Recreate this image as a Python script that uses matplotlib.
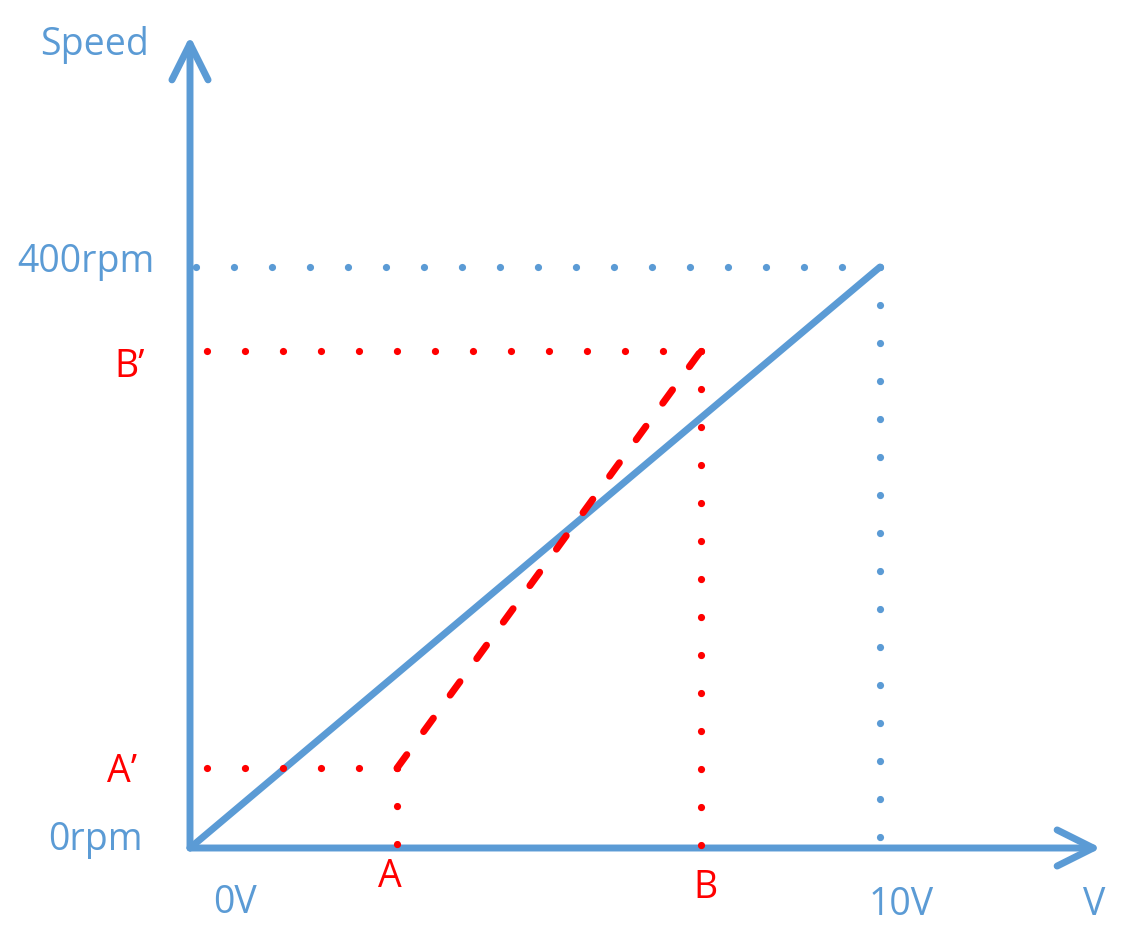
import matplotlib
matplotlib.use('Agg')
import matplotlib.pyplot as plt

plt.rcParams['font.family'] = ['Open Sans', 'DejaVu Sans']

# Data (volts / rpm)
line_v = [0, 10]
line_rpm = [0, 400]
max_v = 10
max_rpm = 400
a_v, b_v = 3.0, 7.4
a_rpm, b_rpm = 55, 342

blue = '#5B9BD5'
red = '#FF0000'

# Layout: pixel scale of the drawing
px_per_v = 69.0
px_per_rpm = 1.4525
origin_x, origin_y = 190, 848
W, H = 1129, 930

fig = plt.figure(figsize=(W / 100, H / 100), dpi=100)
ax = fig.add_axes([0, 0, 1, 1])
ax.set_xlim(-origin_x / px_per_v, (W - origin_x) / px_per_v)
ax.set_ylim(-(H - origin_y) / px_per_rpm, origin_y / px_per_rpm)
ax.axis('off')

# Axes with open arrow heads
x_end = (1101 - origin_x) / px_per_v
y_end = (origin_y - 36) / px_per_rpm
arrow = dict(arrowstyle='->,head_length=2.6,head_width=1.3', color=blue, lw=5,
             shrinkA=0, shrinkB=0, capstyle='round', joinstyle='round')
ax.annotate('', xy=(x_end, 0), xytext=(0, 0), arrowprops=arrow)
ax.annotate('', xy=(0, y_end), xytext=(0, 0), arrowprops=arrow)

# dot spacing ~38 px = 27.36 pt
dot_lw = 5.2
dots = (0, (0.01, 27.36 / dot_lw - 0.01))

# Blue dotted guides to 10V / 400rpm
ax.plot([max_v, 0], [max_rpm, max_rpm], color=blue, lw=dot_lw, linestyle=dots,
        dash_capstyle='round')
ax.plot([max_v, max_v], [max_rpm, 0], color=blue, lw=dot_lw, linestyle=dots,
        dash_capstyle='round')

# Main blue line
ax.plot(line_v, line_rpm, color=blue, lw=5, solid_capstyle='round')

# Red dotted guides
for xs, ys in [([a_v, 0], [a_rpm, a_rpm]), ([a_v, a_v], [a_rpm, 0]),
               ([b_v, 0], [b_rpm, b_rpm]), ([b_v, b_v], [b_rpm, 0])]:
    ax.plot(xs, ys, color=red, lw=dot_lw, linestyle=dots, dash_capstyle='round',
            zorder=3)

# Red dashed line
ax.plot([a_v, b_v], [a_rpm, b_rpm], color=red, lw=5.0,
        linestyle=(0, (2.4, 4.1)), dash_capstyle='round', zorder=3)

fs = 27
def label(text, xy, dx, dy, color, ha):
    ax.annotate(text, xy=xy, xytext=(dx, dy), textcoords='offset pixels',
                color=color, fontsize=fs, ha=ha, va='baseline')

label('Speed', (0, y_end), -150, -19, blue, 'left')
label('400rpm', (0, max_rpm), -35, -5, blue, 'right')
label('B\u2019', (0, b_rpm), -45, -26, red, 'right')
label('A\u2019', (0, a_rpm), -53, -14, red, 'right')
label('0rpm', (0, 0), -47, -2, blue, 'right')
label('0V', (0, 0), 45, -65, blue, 'center')
label('A', (a_v, 0), -7, -39, red, 'center')
label('B', (b_v, 0), 5, -50, red, 'center')
label('10V', (max_v, 0), 21, -67, blue, 'center')
label('V', (x_end, 0), -7, -67, blue, 'center')

plt.savefig('out.png', dpi=100)
